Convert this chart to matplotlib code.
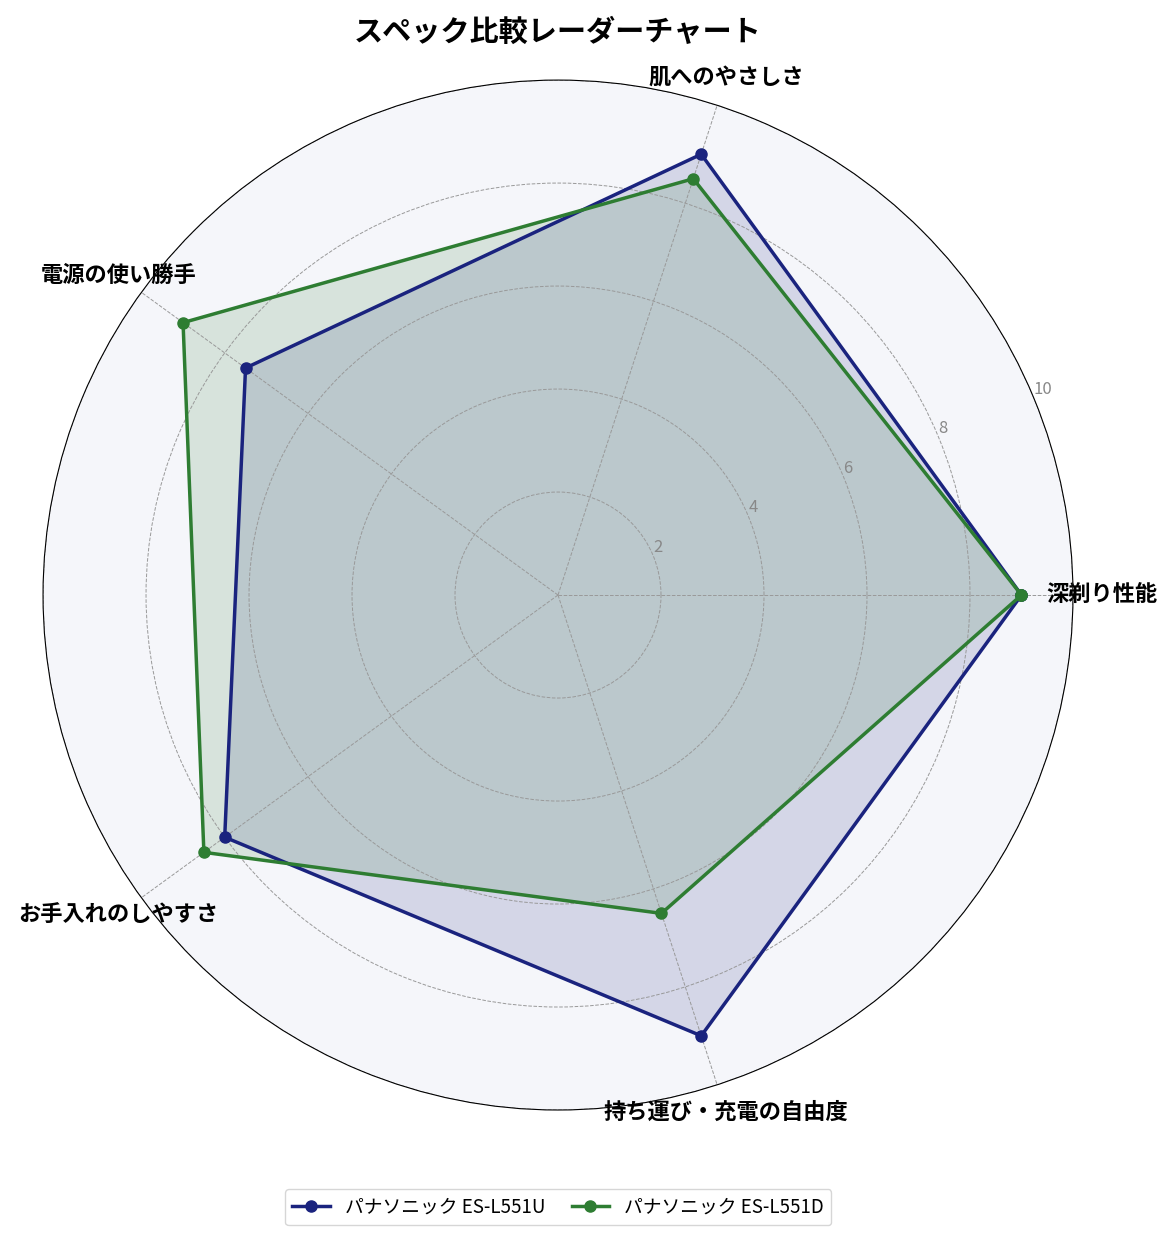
import numpy as np
import matplotlib
matplotlib.use('Agg')
import matplotlib.pyplot as plt

plt.rcParams['font.family'] = ['Noto Sans CJK JP', 'DejaVu Sans']

# 評価項目とスコア
categories = ['深剃り性能', '肌へのやさしさ', '電源の使い勝手', 'お手入れのしやすさ', '持ち運び・充電の自由度']
scores_u = [9.0, 9.0, 7.5, 8.0, 9.0]
scores_d = [9.0, 8.5, 9.0, 8.5, 6.5]
models = ['パナソニック ES-L551U', 'パナソニック ES-L551D']
colors = ['#1a237e', '#2e7d32']
r_ticks = [2, 4, 6, 8, 10]

angles = np.linspace(0, 2 * np.pi, len(categories), endpoint=False).tolist()
angles += angles[:1]

fig = plt.figure(figsize=(11.75, 12.51), dpi=100)
ax = fig.add_axes([0.0366, 0.1127, 0.8766, 0.8233], polar=True)
ax.set_facecolor('#f5f6fa')

for name, vals, col in zip(models, [scores_u, scores_d], colors):
    v = vals + vals[:1]
    ax.plot(angles, v, color=col, linewidth=2.5, marker='o', markersize=8, label=name)
    ax.fill(angles, v, color=col, alpha=0.15)

ax.set_ylim(0, 10)
ax.set_yticks(r_ticks)
ax.set_yticklabels([str(t) for t in r_ticks], color='#888888', fontsize=12)
ax.set_xticks(angles[:-1])
ax.set_xticklabels(categories, fontsize=16, fontweight='bold')
ax.tick_params(axis='x', pad=10)
ax.grid(color='#999999', linestyle='--', linewidth=0.7)
ax.spines['polar'].set_color('black')

ax.set_title('スペック比較レーダーチャート', fontsize=21, fontweight='bold', pad=28)
ax.legend(loc='lower center', ncol=2, bbox_to_anchor=(0.5, -0.121), fontsize=13.5, frameon=True,
          handlelength=2, columnspacing=1.4)

fig.savefig('out.png', dpi=100)
